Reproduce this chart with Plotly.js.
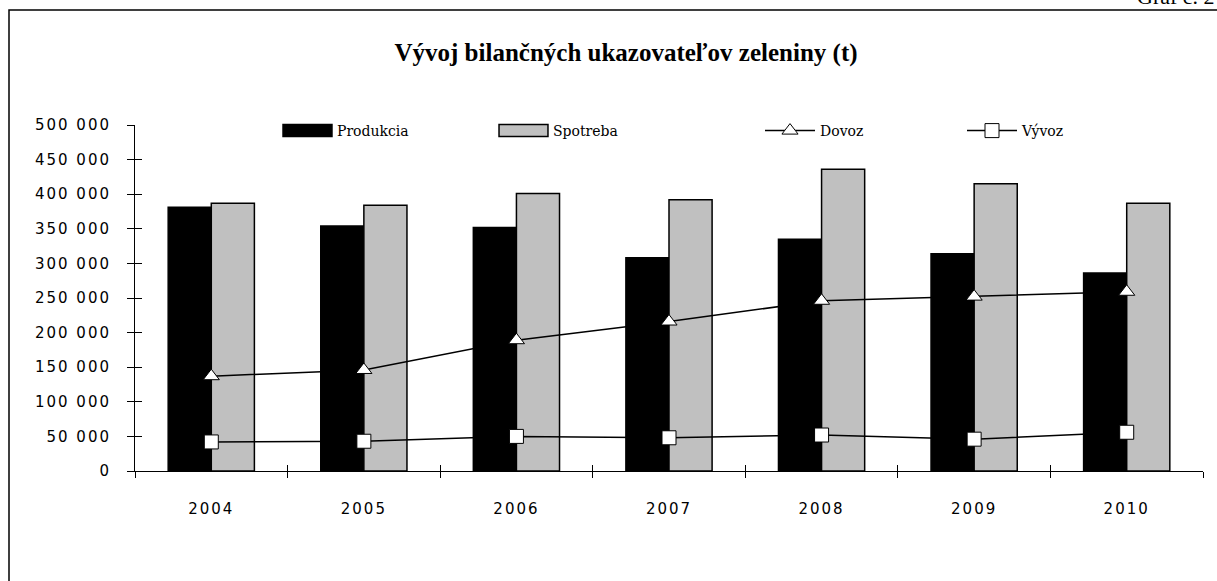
<!DOCTYPE html>
<html>
<head>
<meta charset="utf-8">
<script src="https://cdn.plot.ly/plotly-3.0.1.min.js"></script>
<style>
html, body { margin: 0; padding: 0; background: #fff; }
#chart { width: 1217px; height: 581px; }
.xtick text, .ytick text { letter-spacing: 2px; }
/* wide bar swatches in the legend, like the reference */
.legendpoints path[d="M6,6H-6V-6H6Z"] {
  transform: translate(30.5px, 0px) scale(4.08, 1);
  vector-effect: non-scaling-stroke;
}
</style>
</head>
<body>
<div id="chart"></div>
<script>
// ---- data ----
const years = ['2004', '2005', '2006', '2007', '2008', '2009', '2010'];
const produkcia = [381000, 354000, 352000, 308000, 335000, 314000, 286000];
const spotreba  = [387000, 384000, 401000, 392000, 436000, 415000, 387000];
const dovoz     = [137000, 146000, 189000, 216000, 246000, 252000, 259000];
const vyvoz     = [42000, 43000, 50000, 48000, 52000, 46000, 56000];
const seriesNames = ['Produkcia', 'Spotreba', 'Dovoz', 'Vývoz'];
const chartTitle = 'Vývoj bilančných ukazovateľov zeleniny (t)';
const cornerLabel = 'Graf č. 2';
const yMax = 500000;

// ---- geometry ----
const W = 1217, H = 581;
const plotL = 135, plotR = 1203, plotT = 125, plotB = 471;
const pw = plotR - plotL, ph = plotB - plotT;
const px2x = p => (p - plotL) / pw;
const py2y = p => (plotB - p) / ph;

const traces = [
  {
    type: 'bar', name: seriesNames[0], x: years, y: produkcia, legend: 'legend',
    marker: { color: '#000000', line: { color: '#000000', width: 1.5 } },
    hoverinfo: 'skip'
  },
  {
    type: 'bar', name: seriesNames[1], x: years, y: spotreba, legend: 'legend2',
    marker: { color: '#c0c0c0', line: { color: '#000000', width: 1.5 } },
    hoverinfo: 'skip'
  },
  {
    type: 'scatter', mode: 'lines+markers', name: seriesNames[2], x: years, y: dovoz, legend: 'legend3',
    line: { color: '#000000', width: 1.5 },
    marker: { symbol: 'triangle-up', size: 14, color: '#ffffff', line: { color: '#000000', width: 1 } },
    hoverinfo: 'skip'
  },
  {
    type: 'scatter', mode: 'lines+markers', name: seriesNames[3], x: years, y: vyvoz, legend: 'legend4',
    line: { color: '#000000', width: 1.5 },
    marker: { symbol: 'square', size: 14, color: '#ffffff', line: { color: '#000000', width: 1 } },
    hoverinfo: 'skip'
  },
  {
    // empty helper trace so the overlay axes (inner half of the cross ticks) are drawn
    type: 'scatter', x: [], y: [], xaxis: 'x2', yaxis: 'y2',
    showlegend: false, hoverinfo: 'skip'
  }
];

const tickFont = { family: 'DejaVu Sans', size: 15, color: '#000000' };
const legendFont = { family: 'DejaVu Serif', size: 14, color: '#000000' };
const mkLegend = textStartPx => ({
  orientation: 'h',
  itemwidth: 50,
  x: px2x(textStartPx - 60), xanchor: 'left',
  y: py2y(131), yanchor: 'middle',
  font: legendFont,
  bgcolor: 'rgba(0,0,0,0)', borderwidth: 0
});

const layout = {
  width: W, height: H,
  paper_bgcolor: '#ffffff', plot_bgcolor: '#ffffff',
  margin: { l: plotL, r: W - plotR, t: plotT, b: H - plotB, pad: 0, autoexpand: false },
  separators: ', ',
  barmode: 'group', bargap: 0.435, bargroupgap: 0,
  showlegend: true,
  title: {
    text: chartTitle,
    font: { family: 'Liberation Serif', size: 25, color: '#000000', weight: 'bold' },
    xref: 'container', yref: 'container',
    x: 626 / W, xanchor: 'center',
    y: 1 - 52 / H, yanchor: 'middle'
  },
  legend: mkLegend(337),
  legend2: mkLegend(553),
  legend3: mkLegend(820),
  legend4: mkLegend(1022),
  xaxis: {
    type: 'category',
    showline: true, linecolor: '#000000', linewidth: 1,
    showgrid: false, zeroline: false,
    ticks: 'outside', ticklen: 6, tickwidth: 1, tickcolor: '#000000',
    tickson: 'boundaries',
    ticklabelstandoff: 24,
    tickfont: tickFont,
    fixedrange: true
  },
  yaxis: {
    range: [0, yMax], dtick: 50000, tickformat: ',d',
    showline: true, linecolor: '#000000', linewidth: 1,
    showgrid: false, zeroline: false,
    ticks: 'outside', ticklen: 7, tickwidth: 1, tickcolor: '#000000',
    ticklabelstandoff: 13,
    tickfont: tickFont,
    fixedrange: true
  },
  xaxis2: {
    overlaying: 'x', anchor: 'y', type: 'linear',
    range: [-0.5, years.length - 0.5],
    tickvals: years.map((_, i) => i + 0.5),
    ticks: 'inside', ticklen: 6, tickwidth: 1, tickcolor: '#000000',
    showticklabels: false, showline: false, showgrid: false, zeroline: false,
    fixedrange: true
  },
  yaxis2: {
    overlaying: 'y', anchor: 'x', side: 'left',
    range: [0, yMax], dtick: 50000,
    ticks: 'inside', ticklen: 7, tickwidth: 1, tickcolor: '#000000',
    showticklabels: false, showline: false, showgrid: false, zeroline: false,
    fixedrange: true
  },
  shapes: [
    {
      type: 'rect', xref: 'paper', yref: 'paper', layer: 'below',
      x0: px2x(9), x1: px2x(W + 50), y0: py2y(H + 50), y1: py2y(10),
      line: { color: '#000000', width: 1.5 }, fillcolor: 'rgba(0,0,0,0)'
    }
  ],
  annotations: [
    {
      text: cornerLabel, showarrow: false,
      xref: 'paper', yref: 'paper',
      x: px2x(1217), xanchor: 'right',
      y: py2y(11), yanchor: 'bottom',
      font: { family: 'Liberation Serif', size: 22, color: '#000000' }
    }
  ]
};

Plotly.newPlot('chart', traces, layout, { staticPlot: true, displayModeBar: false });
</script>
</body>
</html>
